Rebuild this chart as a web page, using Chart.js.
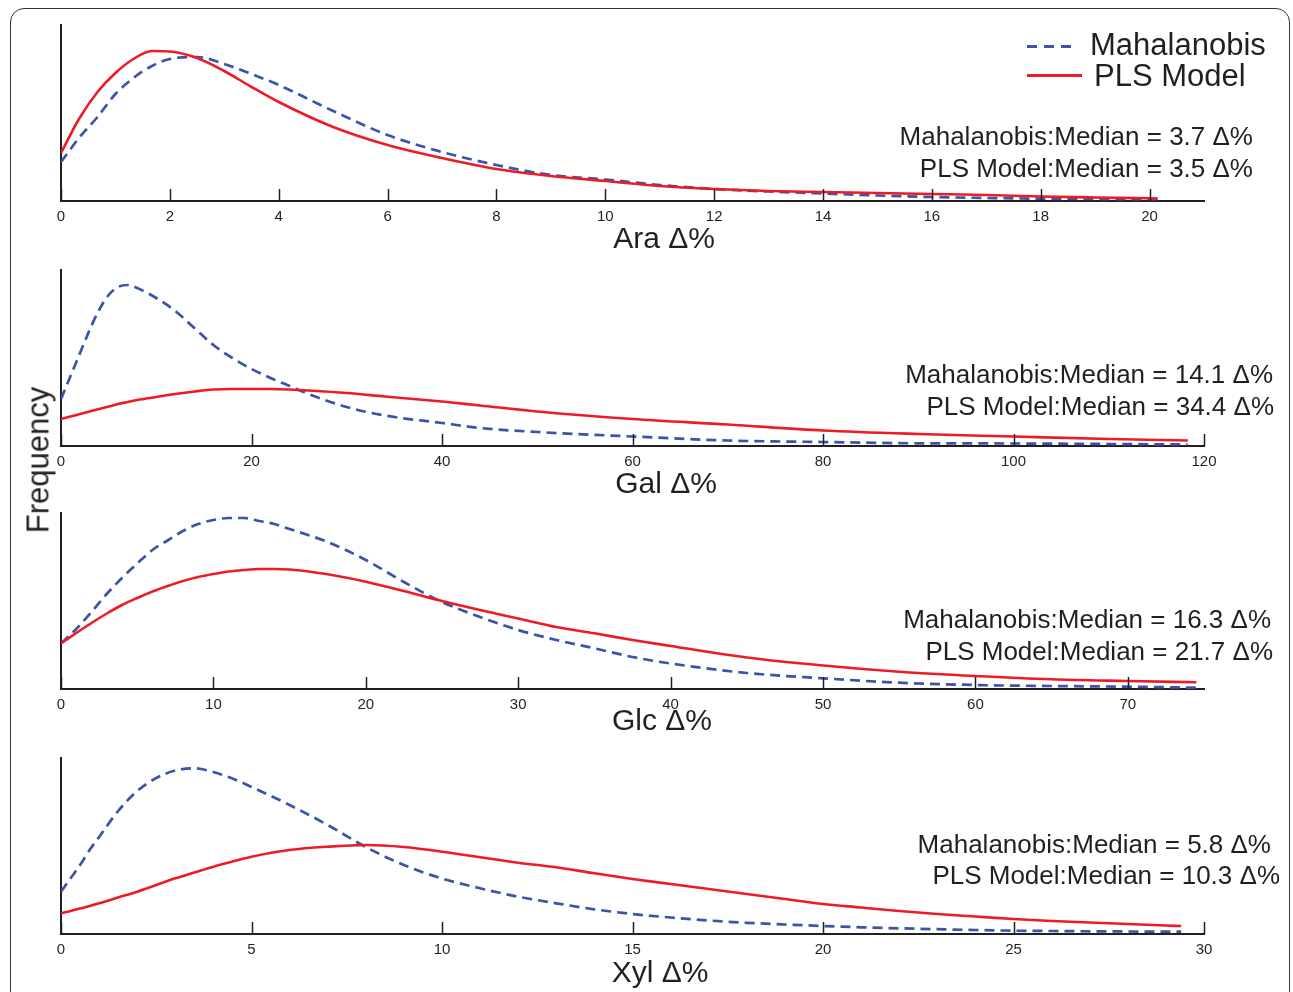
<!DOCTYPE html>
<html>
<head>
<meta charset="utf-8">
<script src="https://cdn.jsdelivr.net/npm/chart.js@4.4.0/dist/chart.umd.min.js"></script>
<style>
    body { margin: 0; background: #fff; }
    #page { position: relative; width: 1293px; height: 992px; overflow: hidden; font-family: 'Liberation Sans', Arial, sans-serif; color: #231f20; }
    #frame { position: absolute; left: 10px; top: 8px; width: 1280px; height: 1020px; border: 1.5px solid #333; border-radius: 14px; box-sizing: border-box; }
    canvas.panel { position: absolute; left: 0; }
    .txt { position: absolute; white-space: nowrap; line-height: 1; }
    .med { font-size: 26px; }
    .ttl { font-size: 30px; transform: translateX(-50%); }
    .leg { font-size: 31px; }
    .swatch { position: absolute; height: 3px; }
</style>
</head>
<body>
<div id="page">
    <div id="frame"></div>
    <canvas class="panel" id="araChart" width="1293" height="246" style="top:15px"></canvas>
    <canvas class="panel" id="galChart" width="1293" height="246" style="top:260px"></canvas>
    <canvas class="panel" id="glcChart" width="1293" height="246" style="top:503px"></canvas>
    <canvas class="panel" id="xylChart" width="1293" height="246" style="top:748px"></canvas>

    <!-- legende -->
    <div class="swatch" style="left:1027px; top:45px; width:50px; background:repeating-linear-gradient(to right, #3b54a5 0 10px, transparent 10px 17px);"></div>
    <div class="txt leg" style="left:1090px; top:29px;">Mahalanobis</div>
    <div class="swatch" style="left:1027px; top:74px; width:55px; background:#ed1c24;"></div>
    <div class="txt leg" style="left:1094px; top:60px;">PLS Model</div>

    <!-- medianes -->
    <div class="txt med" style="right:40px; top:123px;">Mahalanobis:Median = 3.7 Δ%</div>
    <div class="txt med" style="right:40px; top:155px;">PLS Model:Median = 3.5 Δ%</div>
    <div class="txt med" style="right:20px; top:361px;">Mahalanobis:Median = 14.1 Δ%</div>
    <div class="txt med" style="right:19px; top:393px;">PLS Model:Median = 34.4 Δ%</div>
    <div class="txt med" style="right:22px; top:606px;">Mahalanobis:Median = 16.3 Δ%</div>
    <div class="txt med" style="right:20px; top:638px;">PLS Model:Median = 21.7 Δ%</div>
    <div class="txt med" style="right:22px; top:831px;">Mahalanobis:Median = 5.8 Δ%</div>
    <div class="txt med" style="right:13px; top:862px;">PLS Model:Median = 10.3 Δ%</div>

    <!-- titres des axes -->
    <div class="txt ttl" style="left:664px; top:223px;">Ara Δ%</div>
    <div class="txt ttl" style="left:666px; top:468px;">Gal Δ%</div>
    <div class="txt ttl" style="left:662px; top:705px;">Glc Δ%</div>
    <div class="txt ttl" style="left:660px; top:957px;">Xyl Δ%</div>

    <div class="txt" style="left:38px; top:460px; font-size:31px; transform:translate(-50%,-50%) rotate(-90deg);">Frequency</div>
</div>

<script>
const MAHA_COLOR = '#3b54a5';
const PLS_COLOR = '#ed1c24';
const AXIS_COLOR = '#231f20';

// Ara
const araX = [0, 0.33, 0.67, 1, 1.33, 1.67, 2, 2.5, 3, 3.5, 4, 5, 6, 7, 8, 9, 10, 11, 12, 13, 14, 15, 16, 17, 18, 19, 20, 20.15];
const araMaha = [39, 63, 84, 107, 123, 135, 142, 144, 137, 127, 116, 90, 66, 49, 36, 26, 21.5, 16, 12, 9.5, 7.5, 5.5, 4, 3, 2.3, 2, 1.8, 1.8];
const araPls = [48, 82, 109, 128, 142, 150, 149.5, 143, 130, 114, 99, 74, 56, 43, 32, 25, 20, 15, 12, 10, 9, 8, 7, 6, 4.5, 3.5, 2.7, 2.5];
const araTicks = [0, 2, 4, 6, 8, 10, 12, 14, 16, 18, 20];

// Gal
const galX = [0, 1, 2, 3, 4, 5, 6, 7, 8, 10, 12, 14, 16, 18, 20, 22, 24, 26, 30, 34, 40, 44, 50, 60, 70, 80, 90, 100, 110, 118.3];
const galMaha = [47, 70, 93, 116, 136, 151, 159, 161, 158, 148, 135, 118, 101, 88, 77, 68, 60, 52, 39, 30.5, 23, 18, 14, 9.5, 5.5, 4, 2.7, 2.5, 2, 1.5];
const galPls = [27, 29.5, 32, 34.5, 37, 39.5, 42, 44, 46, 49, 52, 54.5, 56.5, 57, 57, 57, 56.5, 55.5, 53, 49.5, 44.5, 40.5, 34.5, 27, 21.5, 15.5, 12, 9.5, 7, 5.5];
const galTicks = [0, 20, 40, 60, 80, 100, 120];

// Glc
const glcX = [0, 1, 2, 3, 4, 5, 6, 7, 8, 9, 10, 11, 12, 13, 14, 15, 17.5, 20, 22.5, 25, 27.5, 30, 32.5, 35, 37.5, 40, 45, 50, 55, 60, 65, 70, 74.5];
const glcMaha = [45.7, 60, 77, 95, 111, 125.5, 139, 148.5, 158, 165, 169, 171, 171, 168, 165, 160, 147, 129, 107, 87, 72, 59, 49, 40.7, 32, 25.5, 16, 10.7, 6.3, 4, 3, 2.3, 1.3];
const glcPls = [45.7, 56, 66, 75.5, 84, 91, 97.5, 103, 108, 112, 115, 117.5, 119, 120, 120, 119.5, 114.7, 107.3, 98, 88, 79, 70.5, 62, 55.7, 49, 43, 31.5, 23.5, 17.3, 13, 9.7, 8, 6.7];
const glcTicks = [0, 10, 20, 30, 40, 50, 60, 70];

// Xyl
const xylX = [0, 0.25, 0.5, 0.75, 1, 1.5, 2, 2.5, 3, 3.5, 4, 4.5, 5, 6, 7, 8, 9, 10, 11, 12, 13, 14, 15, 16, 17, 18, 19, 20, 21, 22, 23, 24, 25, 26, 27, 28, 29, 29.4];
const xylMaha = [42.3, 55.7, 69, 84, 97, 123, 143, 156, 163.5, 165.7, 162, 155.5, 147, 129, 109, 87, 69, 55.5, 45.7, 37.3, 30.7, 24.7, 20, 16.5, 13.5, 11.2, 9.5, 8, 6.7, 5.7, 4.8, 4, 3.3, 3, 2.7, 2.5, 2.3, 2.3];
const xylPls = [20.7, 23, 25.5, 28, 30.7, 36.5, 42.3, 49, 55.7, 61.5, 67.3, 72.5, 77.3, 84, 87.3, 89, 87, 82.3, 76.7, 71.3, 66.7, 60.7, 55, 50, 45, 40, 35, 30, 26.5, 23, 20, 17.5, 15, 13, 11.5, 10, 8.5, 8];
const xylTicks = [0, 5, 10, 15, 20, 25, 30];

// petits traits de graduation vers le haut
const innerTicks = {
    id: 'innerTicks',
    afterDraw(chart) {
        const sx = chart.scales.x;
        const ctx = chart.ctx;
        const base = chart.chartArea.bottom;
        ctx.save();
        ctx.strokeStyle = AXIS_COLOR;
        ctx.lineWidth = 1.5;
        sx.ticks.forEach(t => {
            const px = Math.round(sx.getPixelForValue(t.value)) + 0.5;
            ctx.beginPath();
            ctx.moveTo(px, base);
            ctx.lineTo(px, base - 12);
            ctx.stroke();
        });
        ctx.restore();
    }
};

function toPoints(xs, ys) {
    return xs.map((x, i) => ({ x: x, y: ys[i] }));
}

function makePanel(id, xs, maha, pls, xMax, ticks) {
    return new Chart(document.getElementById(id), {
        type: 'line',
        data: {
            datasets: [{
                label: 'PLS Model',
                data: toPoints(xs, pls),
                borderColor: PLS_COLOR,
                borderWidth: 2.6,
                pointRadius: 0,
                cubicInterpolationMode: 'monotone',
                fill: false
            }, {
                label: 'Mahalanobis',
                data: toPoints(xs, maha),
                borderColor: MAHA_COLOR,
                borderWidth: 2.7,
                borderDash: [10, 6],
                pointRadius: 0,
                cubicInterpolationMode: 'monotone',
                fill: false
            }]
        },
        options: {
            responsive: false,
            animation: false,
            devicePixelRatio: 1,
            layout: { padding: { left: 61, right: 89, top: 10, bottom: 0 } },
            plugins: {
                legend: { display: false },
                tooltip: { enabled: false }
            },
            scales: {
                x: {
                    type: 'linear',
                    min: 0,
                    max: xMax,
                    afterFit: s => { s.height = 60; },
                    afterBuildTicks: s => { s.ticks = ticks.map(v => ({ value: v })); },
                    grid: { display: false, drawTicks: false },
                    border: { display: true, color: AXIS_COLOR, width: 2 },
                    ticks: {
                        padding: 7,
                        color: AXIS_COLOR,
                        autoSkip: false,
                        maxRotation: 0,
                        font: { family: 'Liberation Sans', size: 15 }
                    }
                },
                y: {
                    min: 0,
                    max: 176,
                    afterFit: s => { s.width = 0; },
                    grid: { display: false, drawTicks: false },
                    border: { display: true, color: AXIS_COLOR, width: 2 },
                    ticks: { display: false }
                }
            }
        },
        plugins: [innerTicks]
    });
}

makePanel('araChart', araX, araMaha, araPls, 21, araTicks);
makePanel('galChart', galX, galMaha, galPls, 120, galTicks);
makePanel('glcChart', glcX, glcMaha, glcPls, 75, glcTicks);
makePanel('xylChart', xylX, xylMaha, xylPls, 30, xylTicks);
</script>
</body>
</html>
